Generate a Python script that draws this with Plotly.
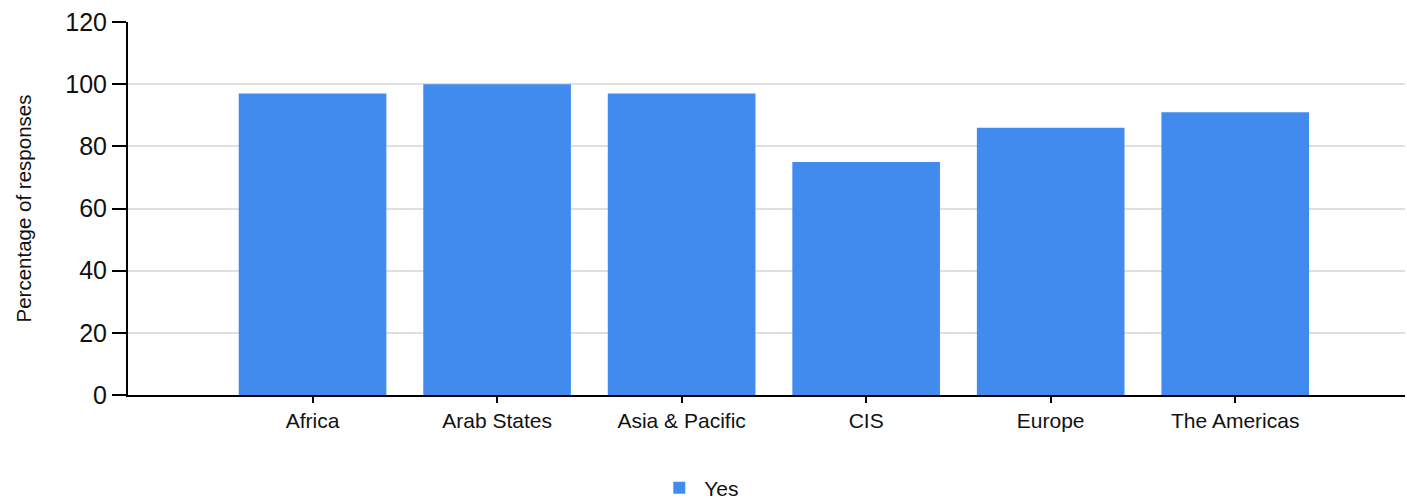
import plotly.graph_objects as go

categories = ["Africa", "Arab States", "Asia & Pacific", "CIS", "Europe", "The Americas"]
yes_values = [97, 100, 97, 75, 86, 91]
y_ticks = [0, 20, 40, 60, 80, 100, 120]

fig = go.Figure()
fig.add_trace(go.Bar(
    x=list(range(len(categories))),
    y=yes_values,
    name="Yes",
    marker=dict(color="#418BEF", line=dict(width=0)),
))

fig.update_layout(
    width=1407, height=499,
    margin=dict(l=128, r=2, t=22, b=104, autoexpand=False),
    paper_bgcolor="white", plot_bgcolor="white",
    font=dict(family="Liberation Sans, Arial, sans-serif", color="#111111"),
    bargap=0.2,
    showlegend=True,
    legend=dict(orientation="h", xref="container", yref="container",
                x=0.497, xanchor="center", y=0.022, yanchor="middle",
                font=dict(size=21), itemwidth=40),
    xaxis=dict(
        tickmode="array", tickvals=list(range(len(categories))), ticktext=categories,
        range=[-1, 5.92], showgrid=False, showline=True, linecolor="black", linewidth=2,
        ticks="outside", ticklen=6, tickwidth=2, tickcolor="black",
        tickfont=dict(size=21), automargin=False,
    ),
    yaxis=dict(
        range=[0, 120], tickvals=y_ticks, showgrid=True, gridcolor="#e0e0e0", gridwidth=2,
        showline=True, linecolor="black", linewidth=2, zeroline=False,
        ticks="outside", ticklen=14, tickwidth=2, tickcolor="black",
        tickfont=dict(size=25), automargin=False,
        title=dict(text="Percentage of responses", font=dict(size=20.5), standoff=28),
    ),
)

fig.write_html("out.html")
